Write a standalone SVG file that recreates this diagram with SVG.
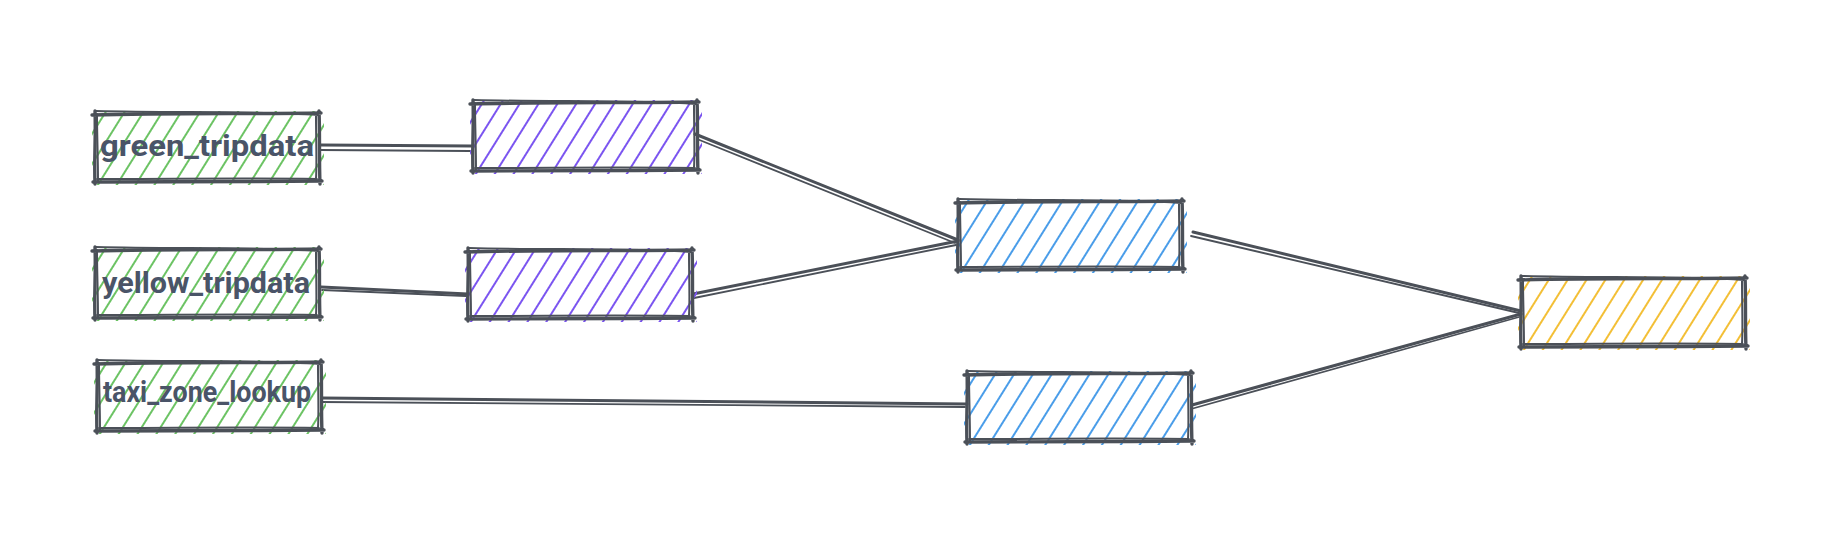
<svg xmlns="http://www.w3.org/2000/svg" width="1844" height="556" viewBox="0 0 1844 556">
<style>
.ol{fill:none;stroke:#4b5058;stroke-width:3.4;stroke-linecap:round}
.ol2{fill:none;stroke:#4b5058;stroke-width:2;stroke-linecap:round}
.cn{fill:none;stroke:#4b5058;stroke-width:3;stroke-linecap:round}
.cn2{fill:none;stroke:#4b5058;stroke-width:1.8;stroke-linecap:round}
.lbl{font-family:"Source Sans Pro","Roboto","Liberation Sans",sans-serif;font-weight:700;font-size:29px;fill:#4a5468}
</style>
<defs>
<pattern id="hG" patternUnits="userSpaceOnUse" width="16" height="30" patternTransform="rotate(32)"><line x1="8" y1="0" x2="8" y2="30" stroke="#6cc364" stroke-width="2"/></pattern>
<pattern id="hP" patternUnits="userSpaceOnUse" width="16" height="30" patternTransform="rotate(32)"><line x1="8" y1="0" x2="8" y2="30" stroke="#7b55f0" stroke-width="2"/></pattern>
<pattern id="hB" patternUnits="userSpaceOnUse" width="16" height="30" patternTransform="rotate(32)"><line x1="8" y1="0" x2="8" y2="30" stroke="#4a9de9" stroke-width="2"/></pattern>
<pattern id="hY" patternUnits="userSpaceOnUse" width="16" height="30" patternTransform="rotate(32)"><line x1="8" y1="0" x2="8" y2="30" stroke="#f3bf36" stroke-width="2"/></pattern>
<g id="outline">
<path class="ol" d="M -3 1 C 70 -1, 150 0, 226 -1 M 224 -3 C 225 20, 224 45, 225 70 M 227 67 C 150 68, 70 67, -2 68 M 0 70 C -1 45, 1 20, 0 -3"/>
<path class="ol2" d="M 1 -3 C 80 -1, 160 -3, 223 1 M 221 1 C 221 25, 222 50, 221 65 M 222 65 C 150 64, 80 65, 2 65 M 3 67 C 3 45, 2 20, 2 0"/>
</g>
</defs>

<g id="connectors">
<path class="cn" d="M 321 145 L 472 146"/><path class="cn2" d="M 320 150 L 470 151"/>
<path class="cn" d="M 321 287 L 468 294"/><path class="cn2" d="M 322 290 L 466 296"/>
<path class="cn" d="M 322 398 L 967 404"/><path class="cn2" d="M 321 402 L 965 407"/>
<path class="cn" d="M 695 134 L 958 240"/><path class="cn2" d="M 697 139 L 955 243"/>
<path class="cn" d="M 693 294 L 958 241"/><path class="cn2" d="M 694 298 L 956 245"/>
<path class="cn" d="M 1193 232 L 1521 311"/><path class="cn2" d="M 1191 236 L 1519 313"/>
<path class="cn" d="M 1192 405 L 1521 314"/><path class="cn2" d="M 1191 409 L 1519 317"/>
</g>

<g id="green_tripdata" transform="translate(95,114)">
<rect x="-3" y="-3" width="232" height="74" fill="url(#hG)"/>
<use href="#outline"/>
<text class="lbl" x="112" y="42" text-anchor="middle" textLength="214" lengthAdjust="spacingAndGlyphs">green_tripdata</text>
</g>
<g id="yellow_tripdata" transform="translate(95,250)">
<rect x="-3" y="-3" width="232" height="74" fill="url(#hG)"/>
<use href="#outline"/>
<text class="lbl" x="111" y="43" text-anchor="middle" textLength="208" lengthAdjust="spacingAndGlyphs">yellow_tripdata</text>
</g>
<g id="taxi_zone_lookup" transform="translate(97,363)">
<rect x="-3" y="-3" width="232" height="74" fill="url(#hG)"/>
<use href="#outline"/>
<text class="lbl" x="110" y="39" text-anchor="middle" textLength="208" lengthAdjust="spacingAndGlyphs">taxi_zone_lookup</text>
</g>
<g id="stg_green" transform="translate(473,103)">
<rect x="-3" y="-3" width="232" height="74" fill="url(#hP)"/>
<use href="#outline"/>
</g>
<g id="stg_yellow" transform="translate(468,251)">
<rect x="-3" y="-3" width="232" height="74" fill="url(#hP)"/>
<use href="#outline"/>
</g>
<g id="fact_trips" transform="translate(958,202)">
<rect x="-3" y="-3" width="232" height="74" fill="url(#hB)"/>
<use href="#outline"/>
</g>
<g id="dim_zones" transform="translate(967,374)">
<rect x="-3" y="-3" width="232" height="74" fill="url(#hB)"/>
<use href="#outline"/>
</g>
<g id="final" transform="translate(1521,279)">
<rect x="-3" y="-3" width="232" height="74" fill="url(#hY)"/>
<use href="#outline"/>
</g>
</svg>
